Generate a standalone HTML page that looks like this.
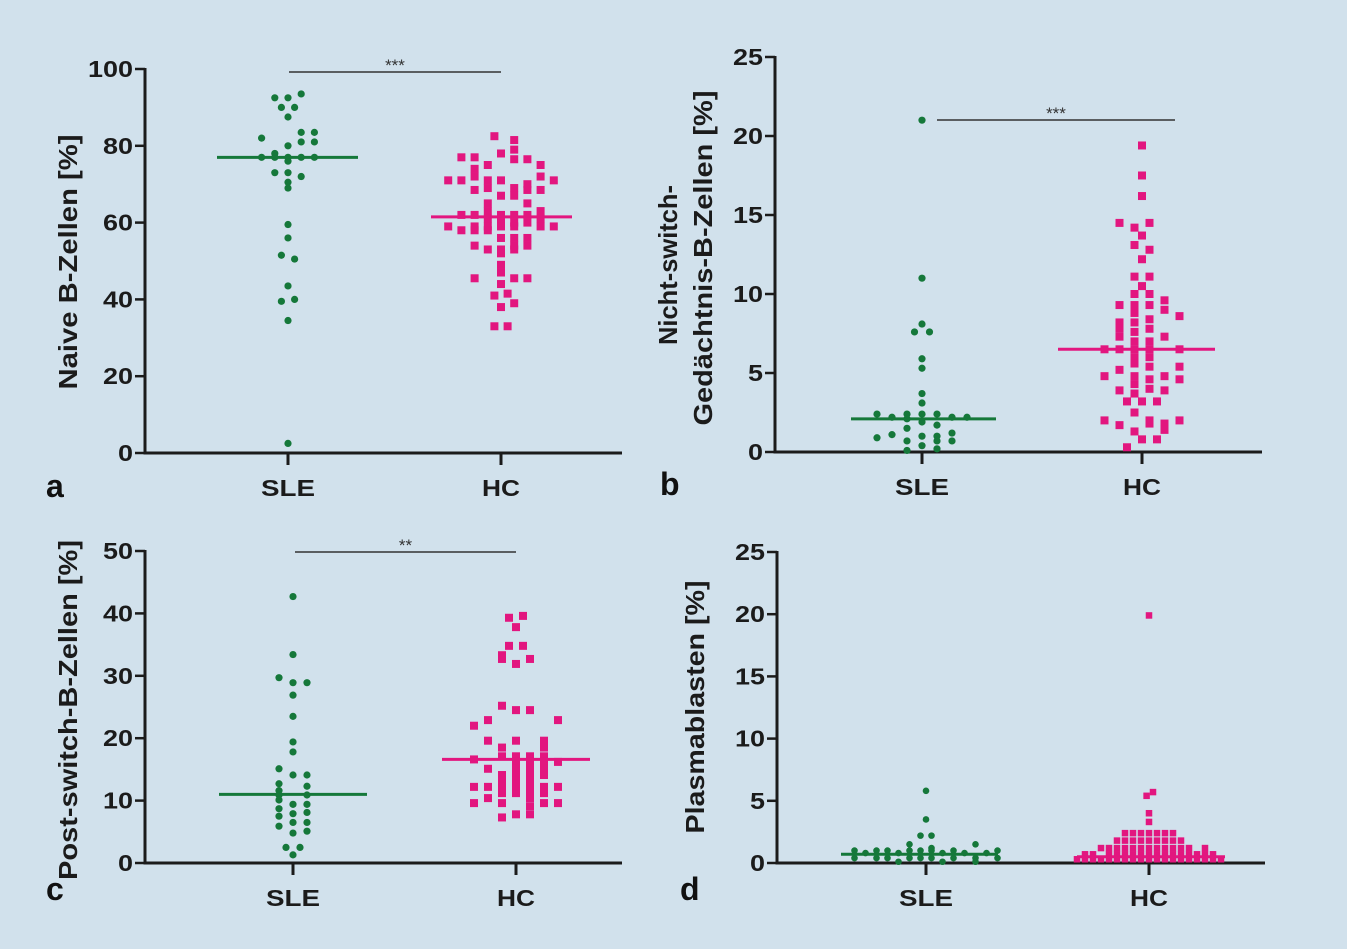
<!DOCTYPE html>
<html><head><meta charset="utf-8"><style>
html,body{margin:0;padding:0;background:#d1e1ec;}
svg{display:block;}
text{font-family:"Liberation Sans",Arial,sans-serif;}
</style></head><body>
<svg id="chart" width="1347" height="949" viewBox="0 0 1347 949">
<rect x="0" y="0" width="1347" height="949" fill="#d1e1ec"/>
</svg>
<script>
// ---- Panel a: Naive B-Zellen ----
const aTicks=[0,20,40,60,80,100];
const aSleVals=[92.5,92.5,93.5,90,90,87.5,82,83.5,83.5,81,81,80,78,77,77,77,77,77,76,73,73,72,70.5,69,59.5,56,51.5,50.5,43.5,40,39.5,34.5,2.5];
const aSleCols=[-1,0,1,-0.5,0.5,0,-2,1,2,1,2,0,-1,-2,-1,0,1,2,0,-1,0,1,0,0,0,0,-0.5,0.5,0,0.5,-0.5,0,0];
const aHcVals=[82.5,81.5,79,78,77,77,76.5,76.5,75,75,74,72,72,71,71,71,71,71,70,69,69,68.5,68.5,68.5,67,67,65,65,63,63,62,62,62,62,62,61,61,60,60,60,59,59,59,59,59,59,59,58,58,58,56,56,56,54,54,54,53,53,53,52,49,47,45.5,45.5,45.5,44,41,41.5,39,38,33,33];
const aHcCols=[-0.5,1,1,0,-2,-3,1,2,-1,3,-2,-2,3,-4,-3,-1,0,4,2,-1,1,-2,2,3,0,1,-1,2,-1,3,-3,-2,0,1,2,-1,3,0,1,2,-4,-2,-1,0,1,3,4,-3,-2,-1,0,1,2,-2,1,2,-1,0,1,0,0,0,-2,1,2,0,-0.5,0.5,1,0,-0.5,0.5];
const aMedians=[77,61.5];
// ---- Panel b: Nicht-switch-Gedächtnis-B-Zellen ----
const bTicks=[0,5,10,15,20,25];
const bSleVals=[21,11,8.1,7.6,7.6,5.9,5.3,3.7,3.1,2.4,2.4,2.4,2.4,2.2,2.2,2.2,2.1,1.9,1.7,1.5,1.2,1.1,0.9,1.0,1.0,0.7,0.7,0.7,0.4,0.2,0.1];
const bSleCols=[0,0,0,-0.5,0.5,0,0,0,0,-3,-1,0,1,-2,2,3,-1,0,1,-1,2,-2,-3,0,1,-1,1,2,0,1,-1];
const bHcVals=[19.4,17.5,16.2,14.5,14.5,14.2,13.7,13.1,12.8,12.2,11.1,11.1,10.5,10,10,9.6,9.3,9.3,9.3,9,8.8,8.6,8.4,8.2,8.2,7.8,7.8,7.6,7.3,7.3,7,7,6.5,6.5,6.5,6.5,6.5,6,6,5.6,5.4,5.4,5.2,4.8,4.8,4.8,4.6,4.6,4.3,4,3.9,3.9,3.7,3.2,3.2,3.2,2.5,2,2,2,1.8,1.8,1.7,1.3,1.4,0.8,0.8,0.3];
const bHcCols=[0,0,0,-1.5,0.5,-0.5,0,-0.5,0.5,0,-0.5,0.5,0,-0.5,0.5,1.5,-1.5,-0.5,0.5,1.5,-0.5,2.5,0.5,-1.5,-0.5,-1.5,0.5,-0.5,-1.5,1.5,-0.5,0.5,-2.5,-1.5,-0.5,0.5,2.5,-0.5,0.5,-0.5,0.5,2.5,-1.5,-2.5,-0.5,1.5,0.5,2.5,-0.5,0.5,-1.5,1.5,-0.5,-1,0,1,-0.5,-2.5,0.5,2.5,0.5,1.5,-1.5,-0.5,1.5,0,1,-1];
const bMedians=[2.1,6.5];
// ---- Panel c: Post-switch-B-Zellen ----
const cTicks=[0,10,20,30,40,50];
const cSleVals=[42.7,33.4,29.7,28.9,28.9,26.9,23.5,19.4,17.8,15.1,14.1,14.1,12.7,12.3,11.6,10.9,10.9,10.1,9.4,9.4,8.7,8.1,7.9,7.5,6.5,6.5,5.9,5.1,4.8,2.5,2.5,1.3];
const cSleCols=[0,0,-1,0,1,0,0,0,0,-1,0,1,-1,1,-1,1,-1,-1,0,1,-1,1,0,-1,0,1,-1,1,0,-0.5,0.5,0];
const cHcVals=[39.6,39.3,37.8,34.8,34.8,33.3,32.7,32.7,31.9,25.2,24.5,24.5,22.9,22.9,22,19.6,19.6,19.6,18.5,18.5,17.1,17.1,17.1,17.1,16.6,16.2,16.2,16.2,16.2,15.1,15.1,15.1,15.1,14.1,14.1,14.1,14.1,13.3,13.3,13.3,12.2,12.2,12.2,12.2,12.2,12.2,12.2,11.2,11.2,11.2,11.2,10.4,10.4,9.6,9.6,9.6,9.6,9.1,7.8,7.8,7.3];
const cHcCols=[0.5,-0.5,0,-0.5,0.5,-1,-1,1,0,-1,0,1,3,-2,-3,-2,0,2,-1,2,-1,0,1,2,-3,0,1,2,3,-2,0,1,2,-1,0,1,2,-1,0,1,-3,-2,-1,0,1,2,3,-1,0,1,2,-2,1,-3,-1,2,3,1,0,1,-1];
const cMedians=[11,16.6];
// ---- Panel d: Plasmablasten ----
const dTicks=[0,5,10,15,20,25];
const dSleVals=[5.8,3.5,2.2,2.2,1.5,1.5,1.2,1.0,1.0,1.0,1.0,1.0,1.0,1.0,1.0,0.8,0.8,0.8,0.8,0.8,0.4,0.4,0.4,0.4,0.4,0.4,0.4,0.4,0.4,0.1,0.1,0.1];
const dSleCols=[0,0,-0.5,0.5,-1.5,4.5,0.5,-6.5,-4.5,-3.5,-1.5,-0.5,0.5,2.5,6.5,-5.5,-2.5,1.5,3.5,5.5,-6.5,-4.5,-3.5,-1.5,-0.5,0.5,2.5,4.5,6.5,-2.5,1.5,4.5];
const dHcVals=[19.9,5.7,5.4,4.0,3.3,
2.4,2.4,2.4,2.4,2.4,2.4,2.4,
1.8,1.8,1.8,1.8,1.8,1.8,1.8,1.8,1.8,
1.2,1.2,1.2,1.2,1.2,1.2,1.2,1.2,1.2,1.2,1.2,1.2,1.2,
0.7,0.7,0.7,0.7,0.7,0.7,0.7,0.7,0.7,0.7,0.7,0.7,0.7,0.7,0.7,0.7,
0.3,0.3,0.3,0.3,0.3,0.3,0.3,0.3,0.3,0.3,0.3,0.3,0.3,0.3,0.3,0.3,0.3,0.3,0.3];
const dHcCols=[0,0.5,-0.3,0,0,
-3,-2,-1,0,1,2,3,
-4,-3,-2,-1,0,1,2,3,4,
-6,-5,-4,-3,-2,-1,0,1,2,3,4,5,7,
-8,-7,-5,-4,-3,-2,-1,0,1,2,3,4,5,6,7,8,
-9,-8,-7,-6,-5,-4,-3,-2,-1,0,1,2,3,4,5,6,7,8,9];
const dMedians=[0.7,0.5];

const NS='http://www.w3.org/2000/svg';
const svg=document.getElementById('chart');
const GREEN='#15783a', PINK='#e2167f';
function mk(tag,attrs,parent){const e=document.createElementNS(NS,tag);for(const k in attrs)e.setAttribute(k,attrs[k]);(parent||svg).appendChild(e);return e;}

function panel(p){
  const g=mk('g',{});
  
  
  const y=v=>p.y0-(v/p.max)*(p.y0-p.ytop);
  const ya=mk('line',{x1:p.left,y1:p.ytop-1,x2:p.left,y2:p.y0+1.5,stroke:'#1b1b1b','stroke-width':3},g);
  
  
  const xa=mk('line',{x1:p.left-1.5,y1:p.y0,x2:p.xEnd,y2:p.y0,stroke:'#1b1b1b','stroke-width':3},g);
  
  
  p.ticks.forEach(t=>{
    const tl=mk('line',{x1:p.left-10,y1:y(t),x2:p.left,y2:y(t),stroke:'#1b1b1b','stroke-width':2.5},g);
    
    
    const s=String(t);
    const tx=mk('text',{x:p.left-12,y:y(t)+8,'text-anchor':'end','font-size':23,'font-weight':'bold',fill:'#1b1b1b',textLength:s.length*15,lengthAdjust:'spacingAndGlyphs'},g);
    tx.textContent=s;
    
    
  });
  [['SLE',p.sleX,54],['HC',p.hcX,38]].forEach(([lab,x,w])=>{
    const tl=mk('line',{x1:x,y1:p.y0,x2:x,y2:p.y0+12,stroke:'#1b1b1b','stroke-width':3},g);
    
    
    const tx=mk('text',{x:x,y:p.y0+43,'text-anchor':'middle','font-size':23,'font-weight':'bold',fill:'#1b1b1b',textLength:w,lengthAdjust:'spacingAndGlyphs'},g);
    tx.textContent=lab;
    
    
  });
  p.sleVals.forEach((v,i)=>{
    const c=mk('circle',{cx:p.sleX+p.sleCols[i]*p.sSp,cy:y(v),r:p.r,fill:GREEN},g);
    
    
  });
  p.hcVals.forEach((v,i)=>{
    const s=mk('rect',{x:p.hcX+p.hcCols[i]*p.hSp-p.sq/2,y:y(v)-p.sq/2,width:p.sq,height:p.sq,fill:PINK},g);
    
    
  });
  const m1=mk('line',{x1:p.sleX-p.mS[0],x2:p.sleX+p.mS[1],y1:y(p.med[0]),y2:y(p.med[0]),stroke:GREEN,'stroke-width':3},g);
  
  
  const m2=mk('line',{x1:p.hcX-p.mH[0],x2:p.hcX+p.mH[1],y1:y(p.med[1]),y2:y(p.med[1]),stroke:PINK,'stroke-width':3},g);
  
  
  if(p.sig){
    const sl=mk('line',{x1:p.sig[0],x2:p.sig[1],y1:p.sig[2],y2:p.sig[2],stroke:'#333','stroke-width':1.5},g);
    
    
    const st=mk('text',{x:(p.sig[0]+p.sig[1])/2,y:p.sig[2]-1,'text-anchor':'middle','font-size':17,fill:'#333'},g);
    st.textContent=p.sig[3];
    
    
  }
}
panel({id:'a',left:145,y0:453,ytop:69,max:100,xEnd:622,sleX:288,hcX:501,sSp:13.2,hSp:13.2,r:3.6,sq:8,ticks:aTicks,sleVals:aSleVals,sleCols:aSleCols,hcVals:aHcVals,hcCols:aHcCols,med:aMedians,mS:[71,70],mH:[70,71],sig:[289,501,72,'***']});
panel({id:'b',left:775,y0:452,ytop:57,max:25,xEnd:1262,sleX:922,hcX:1142,sSp:15,hSp:15,r:3.6,sq:8,ticks:bTicks,sleVals:bSleVals,sleCols:bSleCols,hcVals:bHcVals,hcCols:bHcCols,med:bMedians,mS:[71,74],mH:[84,73],sig:[937,1175,120,'***']});
panel({id:'c',left:145,y0:863,ytop:551,max:50,xEnd:622,sleX:293,hcX:516,sSp:14,hSp:14,r:3.6,sq:8,ticks:cTicks,sleVals:cSleVals,sleCols:cSleCols,hcVals:cHcVals,hcCols:cHcCols,med:cMedians,mS:[74,74],mH:[74,74],sig:[295,516,552,'**']});
panel({id:'d',left:777,y0:863,ytop:552,max:25,xEnd:1265,sleX:926,hcX:1149,sSp:11,hSp:8,r:3.3,sq:6.5,ticks:dTicks,sleVals:dSleVals,sleCols:dSleCols,hcVals:dHcVals,hcCols:dHcCols,med:dMedians,mS:[85,72],mH:[72,76]});

function label(txt,x,y,name,len){
  const t=mk('text',{x:x,y:y,'text-anchor':'middle','font-size':26,'font-weight':'bold',fill:'#1b1b1b',textLength:len,lengthAdjust:'spacingAndGlyphs',transform:'rotate(-90 '+x+' '+y+')'});
  t.textContent=txt;
  
  
}
label('Naive B-Zellen [%]',77,262,'y-axis-title-a',255);
label('Nicht-switch-',677,265,'y-axis-title-b-line1',160);
label('Gedächtnis-B-Zellen [%]',712,258,'y-axis-title-b-line2',335);
label('Post-switch-B-Zellen [%]',77,710,'y-axis-title-c',340);
label('Plasmablasten [%]',704,707,'y-axis-title-d',253);
function letter(txt,x,y){
  const t=mk('text',{x:x,y:y,'font-size':32,'font-weight':'bold',fill:'#111'});
  t.textContent=txt;
  
  
}
letter('a',46,497);letter('b',660,495);letter('c',46,900);letter('d',680,900);
</script>
</body></html>
